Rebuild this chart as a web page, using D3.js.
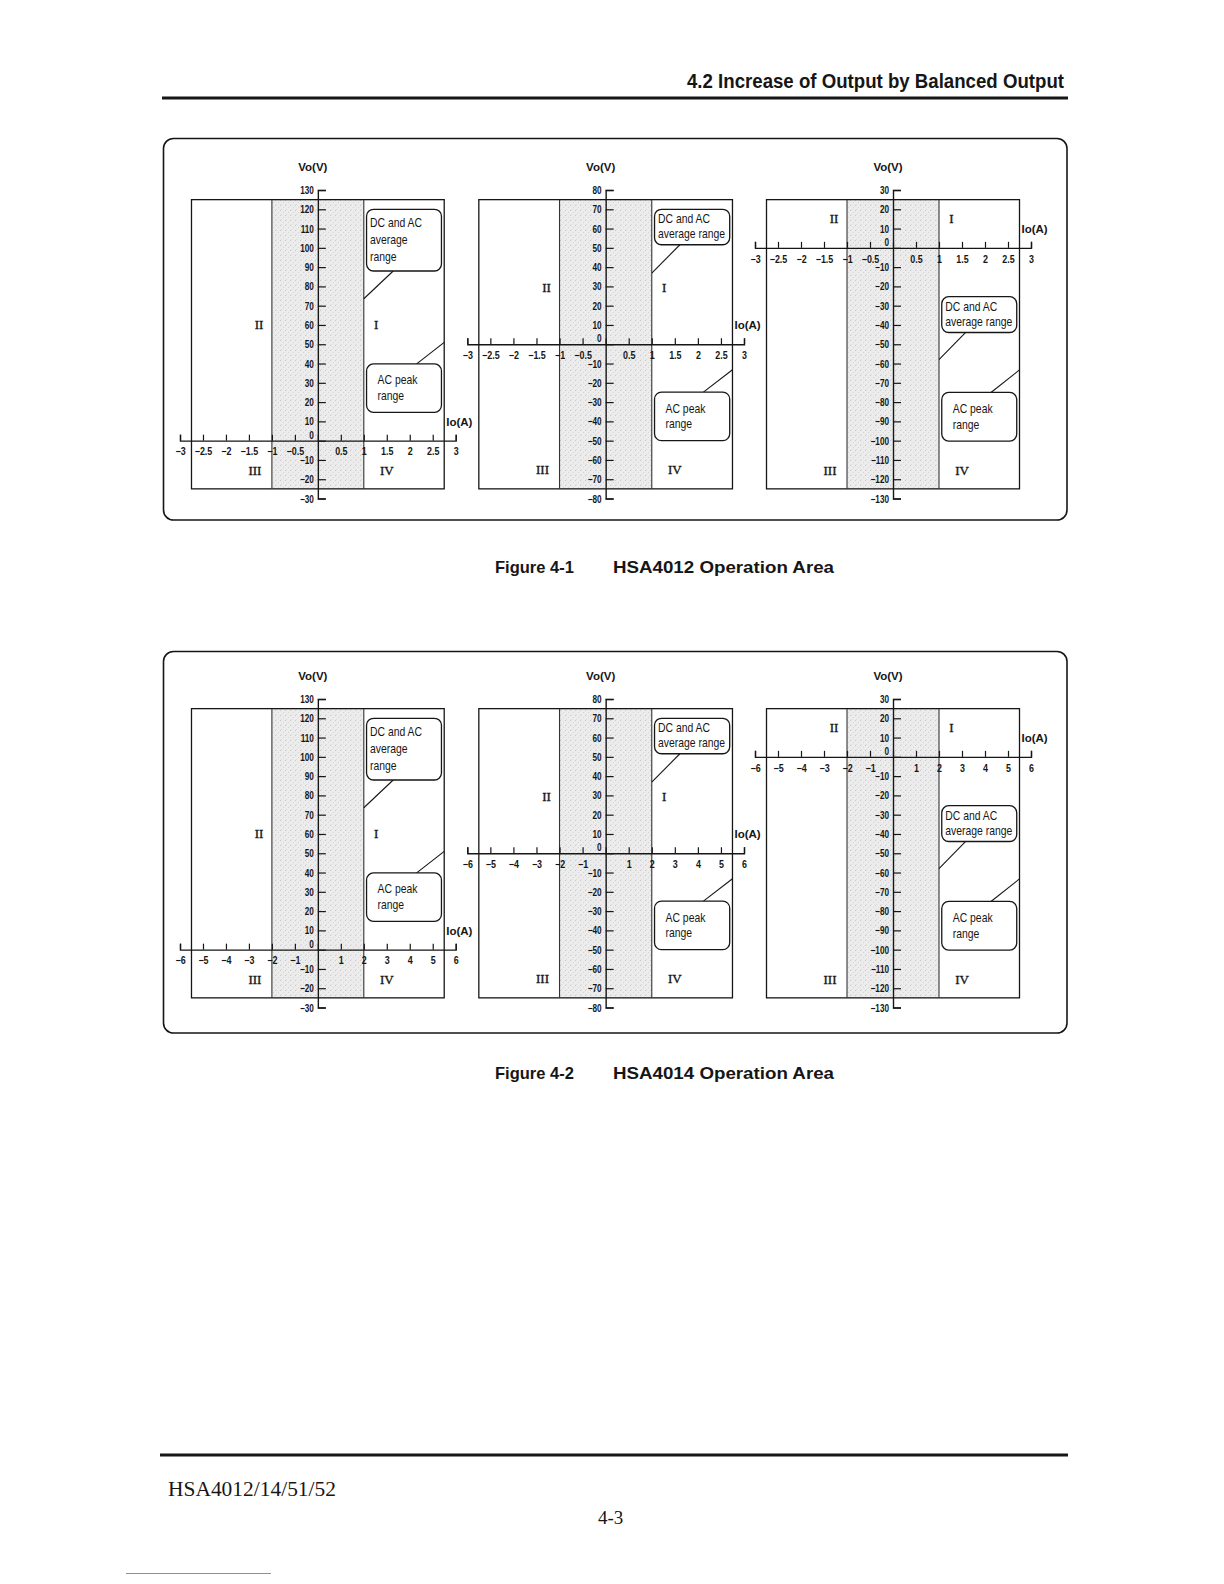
<!DOCTYPE html>
<html>
<head>
<meta charset="utf-8">
<script src="https://cdn.jsdelivr.net/npm/d3@7"></script>
<style>
  html, body { margin: 0; padding: 0; background: #fff; }
  svg { display: block; }
</style>
</head>
<body>
<svg id="page" width="1224" height="1584"></svg>
<script>
// Operation area charts for HSA4012 (Figure 4-1) and HSA4014 (Figure 4-2).
// Each figure has three panels, one per output-voltage window.

// ---- data ----
const ioTicks4012 = [-3, -2.5, -2, -1.5, -1, -0.5, 0, 0.5, 1, 1.5, 2, 2.5, 3];
const ioTicks4014 = [-6, -5, -4, -3, -2, -1, 0, 1, 2, 3, 4, 5, 6];
const ioLimits = [3, 6];      // axis ends
const ioBoxLimits = [2.75, 5.5]; // operation area, |Io|
const ioShadeLimits = [1, 2];    // shaded band, |Io|

const voTicksHigh = [130, 120, 110, 100, 90, 80, 70, 60, 50, 40, 30, 20, 10, 0, -10, -20, -30];
const voTicksMid = [80, 70, 60, 50, 40, 30, 20, 10, 0, -10, -20, -30, -40, -50, -60, -70, -80];
const voTicksLow = [30, 20, 10, 0, -10, -20, -30, -40, -50, -60, -70, -80, -90, -100, -110, -120, -130];
const voTickSets = [voTicksHigh, voTicksMid, voTicksLow];
const voBoxLimits = [[125, -25], [75, -75], [25, -125]];

// callouts; Io given in HSA4012 amps, doubled for HSA4014
const dcLines = [["DC and AC", "average", "range"], ["DC and AC", "average range"], ["DC and AC", "average range"]];
const acLines = ["AC peak", "range"];
const calloutIo = [1.06, 2.69];
const dcBoxVo = [[120, 88], [70, 51.6], [-25.3, -43.9]];
const dcLeader = [[1.64, 73.6], [1.61, 36.9], [1.58, -58]];   // [Io on box, Vo on band edge]
const acBoxVo = [[39.8, 14.7], [-24.8, -50], [-75, -100.2]];
const acLeader = [[2.15, 51], [2.12, -13.2], [2.13, -63.3]];  // [Io on box, Vo on area edge]

const quadrantNames = ["I", "II", "III", "IV"];
const quadrantIo = [1.27, -1.28, -1.37, 1.5];
const quadrantVo = [[60, 60, -15.6, -15.6], [29.5, 29.5, -65, -65], [15, 15, -115.5, -115.5]];

const figureLabels = ["Figure 4-1", "Figure 4-2"];
const modelLabels = ["HSA4012 Operation Area", "HSA4014 Operation Area"];

// ---- layout ----
const panelX = [[180, 455.7], [467.3, 744], [755, 1031]];
const figTop = [0, 509];
const captionY = [573, 1079];
const sans = "'Liberation Sans', Arial, Helvetica, sans-serif";
const serif = "'Liberation Serif', 'Times New Roman', serif";
const ink = "#161616";

const svg = d3.select("#page");

const defs = svg.append("defs");
const pat = defs.append("pattern")
  .attr("id", "stipple")
  .attr("patternUnits", "userSpaceOnUse")
  .attr("width", 5)
  .attr("height", 5);
pat.append("rect").attr("width", 5).attr("height", 5).attr("fill", "#ececec");
pat.append("rect").attr("x", 0).attr("y", 0).attr("width", 1).attr("height", 1).attr("fill", "#c8c8c8");
pat.append("rect").attr("x", 3).attr("y", 2).attr("width", 1).attr("height", 1).attr("fill", "#d6d6d6");
pat.append("rect").attr("x", 1).attr("y", 4).attr("width", 1).attr("height", 1).attr("fill", "#dadada");

// page header / footer
svg.append("text")
  .attr("x", 687).attr("y", 88)
  .attr("font-family", sans).attr("font-weight", 700).attr("font-size", 21)
  .attr("textLength", 377).attr("lengthAdjust", "spacingAndGlyphs")
  .attr("fill", ink)
  .text("4.2  Increase of Output by Balanced Output");
svg.append("rect").attr("x", 162).attr("y", 96.5).attr("width", 906).attr("height", 3).attr("fill", ink);
svg.append("rect").attr("x", 160).attr("y", 1453.5).attr("width", 908).attr("height", 3).attr("fill", ink);
svg.append("text")
  .attr("x", 168).attr("y", 1496)
  .attr("font-family", serif).attr("font-size", 20)
  .attr("textLength", 168).attr("lengthAdjust", "spacingAndGlyphs")
  .attr("fill", ink)
  .text("HSA4012/14/51/52");
svg.append("text")
  .attr("x", 598).attr("y", 1524)
  .attr("font-family", serif).attr("font-size", 19)
  .attr("fill", ink)
  .text("4-3");
svg.append("line")
  .attr("x1", 126).attr("x2", 271).attr("y1", 1573.5).attr("y2", 1573.5)
  .attr("stroke", "#6f8fd6").attr("stroke-width", 1);

const minus = (s) => s.replace("-", "\u2212");

function narrowText(sel, sx) {
  // squeeze glyphs horizontally around the text anchor
  sel.attr("transform", function () {
    const prev = d3.select(this).attr("transform");
    return (prev ? prev + " " : "") + `scale(${sx},1)`;
  });
}

function callout(g, x0, y0, w, h, lines, padX, spacing) {
  g.append("rect")
    .attr("x", x0).attr("y", y0).attr("width", w).attr("height", h)
    .attr("rx", 7).attr("ry", 7)
    .attr("fill", "#fff").attr("stroke", ink).attr("stroke-width", 1.3);
  const first = y0 + (h - (lines.length - 1) * spacing) / 2 - 1;
  const sx = 0.8;
  g.selectAll(null)
    .data(lines)
    .join("text")
    .attr("x", (x0 + padX) / sx)
    .attr("y", (d, i) => first + i * spacing)
    .attr("dominant-baseline", "central")
    .attr("font-family", sans).attr("font-size", 13)
    .attr("fill", ink)
    .attr("transform", `scale(${sx},1)`)
    .text((d) => d);
}

function drawPanel(f, p) {
  const top = figTop[f];
  const ioMax = ioLimits[f];
  const ioBox = ioBoxLimits[f];
  const ioShade = ioShadeLimits[f];
  const k = ioMax / 3;
  const g = svg.append("g");

  const x = d3.scaleLinear().domain([-ioMax, ioMax]).range(panelX[p]);
  const yDomain = d3.extent(voTickSets[p]).reverse();
  const y = d3.scaleLinear().domain(yDomain).range([190 + top, 498.5 + top]);
  const [vTop, vBot] = voBoxLimits[p];

  // shaded band and operation area
  g.append("rect")
    .attr("x", x(-ioShade)).attr("y", y(vTop))
    .attr("width", x(ioShade) - x(-ioShade)).attr("height", y(vBot) - y(vTop))
    .attr("fill", "url(#stipple)");
  g.append("rect")
    .attr("x", x(-ioBox)).attr("y", y(vTop))
    .attr("width", x(ioBox) - x(-ioBox)).attr("height", y(vBot) - y(vTop))
    .attr("fill", "none").attr("stroke", ink).attr("stroke-width", 1.3);
  g.selectAll(null)
    .data([-ioShade, ioShade])
    .join("line")
    .attr("x1", (d) => x(d)).attr("x2", (d) => x(d))
    .attr("y1", y(vTop)).attr("y2", y(vBot))
    .attr("stroke", "#333").attr("stroke-width", 1.1);

  // quadrant numerals
  g.selectAll(null)
    .data(quadrantNames)
    .join("text")
    .attr("x", (d, i) => x(quadrantIo[i] * k))
    .attr("y", (d, i) => y(quadrantVo[p][i]))
    .attr("text-anchor", "middle").attr("dominant-baseline", "central")
    .attr("font-family", serif).attr("font-size", 13)
    .attr("stroke", ink).attr("stroke-width", 0.35)
    .attr("fill", ink)
    .text((d) => d);

  // Io axis: ticks up, labels below
  const fmtIo = (d) => (d === 0 ? "" : minus(String(d)));
  const gx = g.append("g")
    .attr("transform", `translate(0,${y(0)})`)
    .call(d3.axisTop(x).tickValues(f === 0 ? ioTicks4012 : ioTicks4014)
      .tickSize(6).tickSizeOuter(6).tickFormat(fmtIo));
  gx.attr("font-family", sans).attr("font-size", 10.5).attr("font-weight", 700);
  gx.select(".domain").attr("stroke", ink).attr("stroke-width", 1.4);
  gx.selectAll(".tick line").attr("stroke", ink).attr("stroke-width", 1.2);
  gx.selectAll(".tick text")
    .attr("y", 11).attr("dy", "0.35em").attr("fill", ink)
    .call(narrowText, 0.85);

  // Vo axis: ticks right, labels left
  const gy = g.append("g")
    .attr("transform", `translate(${x(0)},0)`)
    .call(d3.axisRight(y).tickValues(voTickSets[p])
      .tickSize(8).tickSizeOuter(8).tickFormat((d) => minus(String(d))));
  gy.attr("font-family", sans).attr("font-size", 10.5).attr("font-weight", 700);
  gy.select(".domain").attr("stroke", ink).attr("stroke-width", 1.4);
  gy.selectAll(".tick line").attr("stroke", ink).attr("stroke-width", 1.2);
  gy.selectAll(".tick text")
    .attr("x", -4 / 0.78)
    .attr("text-anchor", "end")
    .attr("dy", (d) => (d === 0 ? "-0.25em" : "0.34em"))
    .attr("fill", ink)
    .call(narrowText, 0.78);

  // axis titles
  g.append("text")
    .attr("x", x(0) - 5).attr("y", 167 + top)
    .attr("text-anchor", "middle").attr("dominant-baseline", "central")
    .attr("font-family", sans).attr("font-weight", 700).attr("font-size", 11.5)
    .attr("fill", ink)
    .text("Vo(V)");
  g.append("text")
    .attr("x", x(ioBox) + 2).attr("y", y(0) - 19)
    .attr("dominant-baseline", "central")
    .attr("font-family", sans).attr("font-weight", 700).attr("font-size", 11.5)
    .attr("fill", ink)
    .text("Io(A)");

  // callouts
  const bx0 = x(calloutIo[0] * k);
  const bw = x(calloutIo[1] * k) - bx0;
  const dcTop = y(dcBoxVo[p][0]);
  const dcBot = y(dcBoxVo[p][1]);
  g.append("line")
    .attr("x1", x(dcLeader[p][0] * k)).attr("y1", dcBot)
    .attr("x2", x(ioShade)).attr("y2", y(dcLeader[p][1]))
    .attr("stroke", ink).attr("stroke-width", 1.1);
  callout(g, bx0, dcTop, bw, dcBot - dcTop, dcLines[p], 3.5, dcLines[p].length === 3 ? 17 : 15);

  const acTop = y(acBoxVo[p][0]);
  const acBot = y(acBoxVo[p][1]);
  g.append("line")
    .attr("x1", x(acLeader[p][0] * k)).attr("y1", acTop)
    .attr("x2", x(ioBox)).attr("y2", y(acLeader[p][1]))
    .attr("stroke", ink).attr("stroke-width", 1.1);
  callout(g, bx0, acTop, bw, acBot - acTop, acLines, 11, 15.6);
}

[0, 1].forEach((f) => {
  svg.append("rect")
    .attr("x", 163.5).attr("y", 138.5 + figTop[f] + (f === 1 ? 4 : 0))
    .attr("width", 903.5).attr("height", 381.5)
    .attr("rx", 10).attr("ry", 10)
    .attr("fill", "none").attr("stroke", ink).attr("stroke-width", 1.6);
  [0, 1, 2].forEach((p) => drawPanel(f, p));
  svg.append("text")
    .attr("x", 495).attr("y", captionY[f])
    .attr("font-family", sans).attr("font-weight", 700).attr("font-size", 16.5)
    .attr("fill", ink)
    .text(figureLabels[f]);
  svg.append("text")
    .attr("x", 613).attr("y", captionY[f])
    .attr("font-family", sans).attr("font-weight", 700).attr("font-size", 16.5)
    .attr("textLength", 221).attr("lengthAdjust", "spacingAndGlyphs")
    .attr("fill", ink)
    .text(modelLabels[f]);
});
</script>
</body>
</html>
